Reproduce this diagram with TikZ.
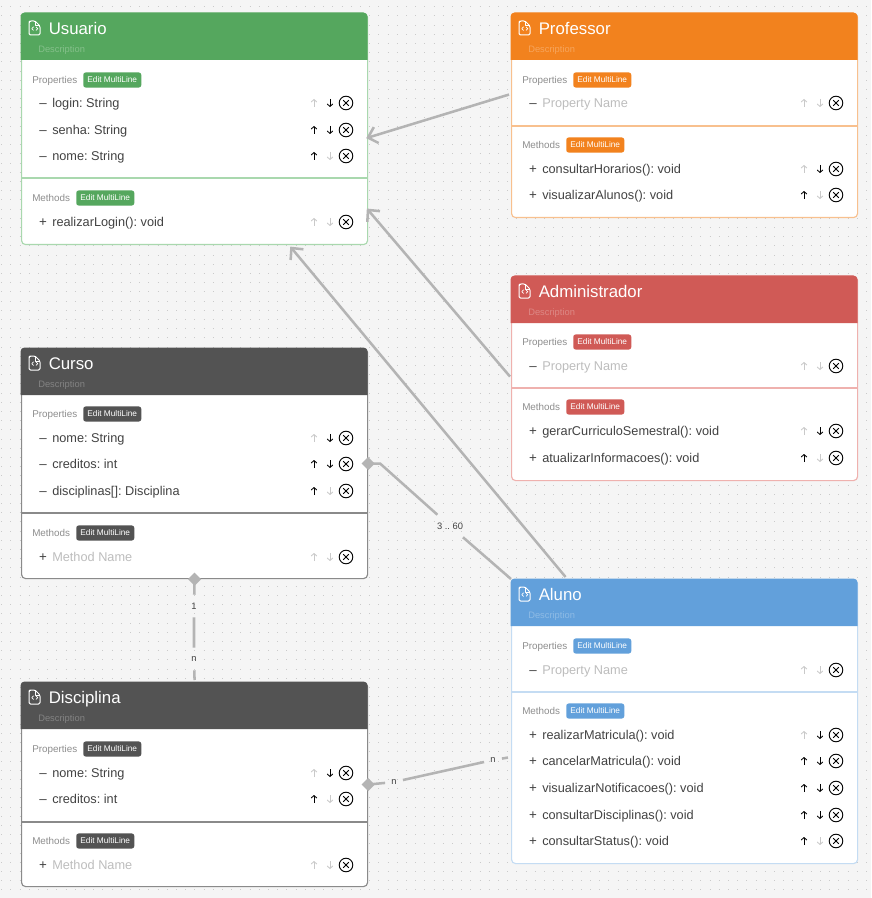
\documentclass[tikz,border=0pt]{standalone}
\usepackage{fontspec}
\setmainfont{Liberation Sans}
\usetikzlibrary{arrows.meta,shapes.geometric,calc}
\definecolor{bgc}{HTML}{F5F5F5}
\definecolor{dotc}{HTML}{CACACA}
\definecolor{linec}{HTML}{B4B4B4}
\definecolor{txtc}{HTML}{424242}
\definecolor{phc}{HTML}{BDBDBD}
\definecolor{labc}{HTML}{8E8E8E}
\definecolor{offc}{HTML}{C9C9C9}
\definecolor{grn}{HTML}{55A75E}\definecolor{grnt}{HTML}{A9D8AE}
\definecolor{org}{HTML}{F2821E}\definecolor{orgt}{HTML}{F8C08E}
\definecolor{red}{HTML}{D05A56}\definecolor{redt}{HTML}{EFB1AE}
\definecolor{blu}{HTML}{62A0DB}\definecolor{blut}{HTML}{C4DCF3}
\definecolor{dkg}{HTML}{535353}\definecolor{dkgt}{HTML}{8A8A8A}
\frenchspacing
\tikzset{
  classbody/.style={rectangle,fill=white,inner sep=0pt,anchor=north west,rounded corners=3pt,line width=0.85pt},
  titletext/.style={anchor=base west,inner sep=0pt,text=white,font=\fontsize{12.6pt}{14pt}\selectfont},
  desctext/.style={anchor=base west,inner sep=0pt,font=\fontsize{7pt}{8pt}\selectfont},
  seclabel/.style={anchor=base west,inner sep=0pt,text=labc,font=\fontsize{7.4pt}{8pt}\selectfont},
  badge/.style={rectangle,anchor=west,inner sep=0pt,rounded corners=1.8pt,text=white,minimum height=11.3pt,minimum width=43.5pt,font=\fontsize{6.2pt}{7pt}\selectfont},
  rowtext/.style={anchor=base west,inner sep=0pt,font=\fontsize{9.55pt}{11pt}\selectfont},
  signtext/.style={anchor=base,inner sep=0pt,text=txtc,font=\fontsize{10pt}{11pt}\selectfont},
  glyph/.style={line width=0.65pt,-{Straight Barb[length=1.8pt,width=4.2pt,line width=0.65pt]}},
  delbtn/.style={circle,draw=black,line width=0.7pt,inner sep=0pt,minimum size=10.2pt},
  conn/.style={draw=linec,line width=1.9pt},
  arrowconn/.style={conn,shorten >=-1.5pt,-{Straight Barb[length=6.5pt,width=12.5pt,line width=1.9pt]}},
  endmark/.style={diamond,fill=linec,inner sep=0pt,minimum width=10pt,minimum height=10pt},
  connlabel/.style={rectangle,inner sep=0pt,text=txtc,font=\fontsize{7pt}{8pt}\selectfont},
}
% id, x, y, h, header h, title, color, tint
\newcommand\classhead[8]{%
  \node[classbody,draw=#8,minimum width=259.5pt,minimum height=#4*0.75pt] (#1) at (#2,#3) {};
  \fill[#7] (#2-0.5,#3+#5) [rounded corners=3pt] -- (#2-0.5,#3-0.5) -- (#2+346.5,#3-0.5) [sharp corners] -- (#2+346.5,#3+#5) -- cycle;
  \begin{scope}[shift={(#2,#3)},draw=white,line width=0.75pt,line join=round]
    \draw[rounded corners=1pt] (14,8) -- (9,8) -- (8,9) -- (8,22) -- (19,22) -- (19,13) -- cycle;
    \draw (14,8) -- (14,13) -- (19,13);
    \draw[line width=0.55pt] (12.6,13.8) -- (10.8,15.6) -- (12.6,17.4) (15.0,13.8) -- (16.8,15.6) -- (15.0,17.4);
  \end{scope}
  \node[titletext] (#1-title) at (#2+27.5,#3+21.5) {#6};
  \node[desctext,text=#7!72!white] (#1-desc) at (#2+17,#3+39.4) {Description};
}
% id, x, y, label, badge offset, color
\newcommand\classsec[6]{%
  \node[seclabel] (#1-lab) at (#2+11,#3+3.6) {#4};
  \node[badge,fill=#6] (#1-edit) at (#2+#5,#3) {Edit MultiLine};
}
% id, x, y, sign, text, text colour, up colour, down colour
\newcommand\classrow[8]{%
  \node[signtext] (#1-sign) at (#2+22,#3+4.2) {#4};
  \node[rowtext,text=#6] (#1-text) at (#2+31,#3+4.7) {#5};
  \draw[glyph,#7] (#2+293,#3+4) -- (#2+293,#3-4);
  \draw[glyph,#8] (#2+309,#3-4) -- (#2+309,#3+4);
  \node[delbtn] (#1-del) at (#2+325,#3) {};
  \draw[black,line width=0.7pt] (#2+322.2,#3-2.8) -- (#2+327.8,#3+2.8) (#2+322.2,#3+2.8) -- (#2+327.8,#3-2.8);
}
\begin{document}
\begin{tikzpicture}[x=0.75pt,y=-0.75pt]
\useasboundingbox (0,0) rectangle (871,898);
\fill[bgc] (0,0) rectangle (871,898);
\foreach \j in {0,...,97}{
  \draw[dotc,line width=0.75pt,dash pattern=on 0.75pt off 6.15pt] (1.2,{6.7+9.2*\j}) -- (871,{6.7+9.2*\j});
}

% Usuario
\classhead{usu}{21}{13}{231}{47}{Usuario}{grn}{grnt}
\classsec{usuP}{21}{80}{Properties}{62}{grn}
\classrow{usu1}{21}{103}{--}{login: String}{txtc}{offc}{black}
\classrow{usu2}{21}{130}{--}{senha: String}{txtc}{black}{black}
\classrow{usu3}{21}{156}{--}{nome: String}{txtc}{black}{offc}
\draw[grnt,line width=0.85pt] (21,178) -- (367,178);
\classsec{usuM}{21}{198}{Methods}{55}{grn}
\classrow{usu4}{21}{222}{+}{realizarLogin(): void}{txtc}{offc}{offc}

% Professor
\classhead{pro}{511}{13}{204}{47}{Professor}{org}{orgt}
\classsec{proP}{511}{80}{Properties}{62}{org}
\classrow{pro1}{511}{103}{--}{Property Name}{phc}{offc}{offc}
\draw[orgt,line width=0.85pt] (511,126) -- (857,126);
\classsec{proM}{511}{145}{Methods}{55}{org}
\classrow{pro2}{511}{169}{+}{consultarHorarios(): void}{txtc}{offc}{black}
\classrow{pro3}{511}{195}{+}{visualizarAlunos(): void}{txtc}{black}{offc}

% Administrador
\classhead{adm}{511}{276}{204}{47}{Administrador}{red}{redt}
\classsec{admP}{511}{342}{Properties}{62}{red}
\classrow{adm1}{511}{366}{--}{Property Name}{phc}{offc}{offc}
\draw[redt,line width=0.85pt] (511,388) -- (857,388);
\classsec{admM}{511}{407}{Methods}{55}{red}
\classrow{adm2}{511}{431}{+}{gerarCurriculoSemestral(): void}{txtc}{offc}{black}
\classrow{adm3}{511}{458}{+}{atualizarInformacoes(): void}{txtc}{black}{offc}

% Curso
\classhead{cur}{21}{348}{230}{47}{Curso}{dkg}{dkgt}
\classsec{curP}{21}{414}{Properties}{62}{dkg}
\classrow{cur1}{21}{438}{--}{nome: String}{txtc}{offc}{black}
\classrow{cur2}{21}{464}{--}{creditos: int}{txtc}{black}{black}
\classrow{cur3}{21}{491}{--}{disciplinas[]: Disciplina}{txtc}{black}{offc}
\draw[dkgt,line width=0.85pt] (21,513) -- (367,513);
\classsec{curM}{21}{533}{Methods}{55}{dkg}
\classrow{cur4}{21}{557}{+}{Method Name}{phc}{offc}{offc}

% Disciplina
\classhead{dis}{21}{682}{204}{47}{Disciplina}{dkg}{dkgt}
\classsec{disP}{21}{749}{Properties}{62}{dkg}
\classrow{dis1}{21}{773}{--}{nome: String}{txtc}{offc}{black}
\classrow{dis2}{21}{799}{--}{creditos: int}{txtc}{black}{offc}
\draw[dkgt,line width=0.85pt] (21,822) -- (367,822);
\classsec{disM}{21}{841}{Methods}{55}{dkg}
\classrow{dis3}{21}{865}{+}{Method Name}{phc}{offc}{offc}

% Aluno
\classhead{alu}{511}{579}{284}{47}{Aluno}{blu}{blut}
\classsec{aluP}{511}{646}{Properties}{62}{blu}
\classrow{alu1}{511}{670}{--}{Property Name}{phc}{offc}{offc}
\draw[blut,line width=0.85pt] (511,692) -- (857,692);
\classsec{aluM}{511}{711}{Methods}{55}{blu}
\classrow{alu2}{511}{735}{+}{realizarMatricula(): void}{txtc}{offc}{black}
\classrow{alu3}{511}{761}{+}{cancelarMatricula(): void}{txtc}{black}{black}
\classrow{alu4}{511}{788}{+}{visualizarNotificacoes(): void}{txtc}{black}{black}
\classrow{alu5}{511}{815}{+}{consultarDisciplinas(): void}{txtc}{black}{black}
\classrow{alu6}{511}{841}{+}{consultarStatus(): void}{txtc}{black}{offc}

% Inheritance connectors
\draw[arrowconn] ($(pro.west)+(-2,-21)$) -- ($(usu.east)+(0,8.5)$);
\draw[arrowconn] ($(adm.west)+(-1,-2)$) -- ($(usu.east)+(0,81)$);
\draw[arrowconn] ($(alu.north)+(-119,-2)$) -- ($(usu.south)+(97,3)$);

% Curso -- Aluno
\node[endmark] (mk1) at (cur.east) {};
\coordinate (elb1) at ($(cur.east)+(12,0)$);
\node[connlabel,minimum width=20pt,minimum height=16.5pt] (lb1) at (450,526) {3 .. 60};
\draw[conn] (mk1.center) -- (elb1) -- (lb1) -- (alu.north west);

% Curso -- Disciplina
\node[endmark] (mk2) at (cur.south) {};
\node[connlabel,minimum width=10pt,minimum height=16.5pt] (lb2) at (194,606) {1};
\node[connlabel,minimum width=10pt,minimum height=16.5pt] (lb3) at (194,659) {n};
\draw[conn] (mk2.center) -- (lb2) -- (lb3) -- ($(dis.north)+(0,-2)$);

% Disciplina -- Aluno
\node[endmark] (mk3) at (dis.east) {};
\node[connlabel,minimum width=13pt,minimum height=12pt] (lb4) at (394,782) {n};
\node[connlabel,minimum width=13pt,minimum height=12pt] (lb5) at (493,760) {n};
\draw[conn] (mk3.center) -- (lb4) -- (lb5) -- ($(alu.west)+(-3,36)$);
\end{tikzpicture}
\end{document}
